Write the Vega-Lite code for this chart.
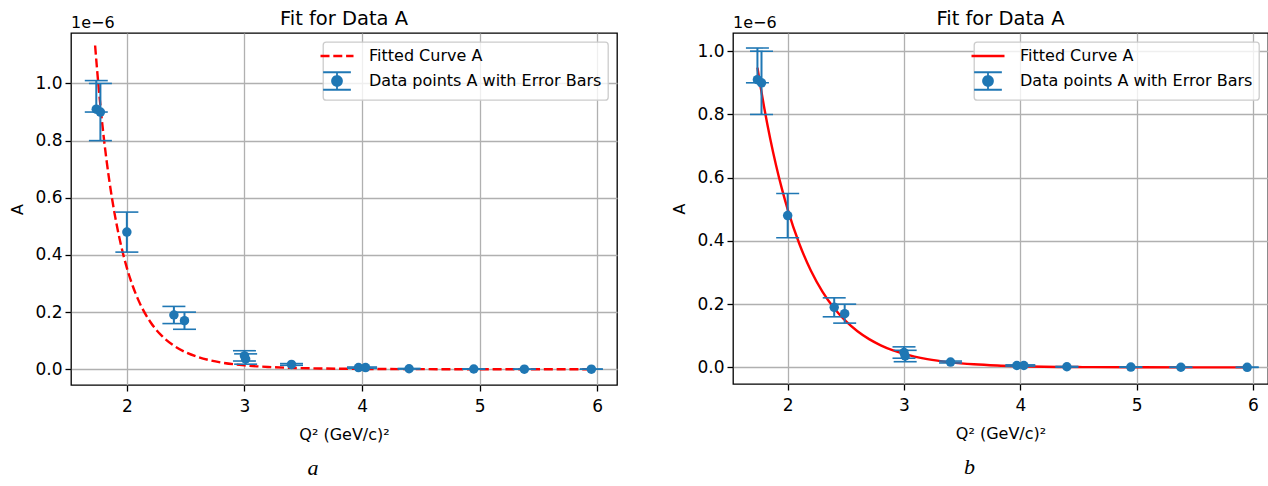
{
  "$schema": "https://vega.github.io/schema/vega-lite/v6.json",
  "background": "white",
  "padding": {"left": 8, "top": 9, "right": 0, "bottom": 0},
  "spacing": 52,
  "datasets": {
    "points": [
      {"x": 1.74, "y": 9.1e-7, "lo": 9.0e-7, "hi": 1.01e-6},
      {"x": 1.775, "y": 9.0e-7, "lo": 8.0e-7, "hi": 1.0e-6},
      {"x": 2.0, "y": 4.8e-7, "lo": 4.1e-7, "hi": 5.5e-7},
      {"x": 2.4, "y": 1.9e-7, "lo": 1.6e-7, "hi": 2.2e-7},
      {"x": 2.49, "y": 1.7e-7, "lo": 1.4e-7, "hi": 2.0e-7},
      {"x": 3.0, "y": 4.7e-8, "lo": 2.9e-8, "hi": 6.5e-8},
      {"x": 3.01, "y": 3.6e-8, "lo": 1.8e-8, "hi": 5.4e-8},
      {"x": 3.4, "y": 1.7e-8, "lo": 1.4e-8, "hi": 2.0e-8},
      {"x": 3.97, "y": 6e-9, "lo": 4e-9, "hi": 8e-9},
      {"x": 4.03, "y": 6e-9, "lo": 4e-9, "hi": 8e-9},
      {"x": 4.4, "y": 2e-9, "lo": 1e-9, "hi": 3e-9},
      {"x": 4.95, "y": 1e-9, "lo": 5e-10, "hi": 1.5e-9},
      {"x": 5.38, "y": 5e-10, "lo": 2e-10, "hi": 8e-10},
      {"x": 5.95, "y": 3e-10, "lo": 1e-10, "hi": 5e-10}
    ],
    "curveA": [
      {"x": 1.73, "y": 1.1327e-6},
      {"x": 1.75, "y": 1.0332e-6},
      {"x": 1.8, "y": 8.247e-7},
      {"x": 1.85, "y": 6.624e-7},
      {"x": 1.9, "y": 5.351e-7},
      {"x": 1.95, "y": 4.347e-7},
      {"x": 2.0, "y": 3.55e-7},
      {"x": 2.05, "y": 2.914e-7},
      {"x": 2.1, "y": 2.403e-7},
      {"x": 2.2, "y": 1.656e-7},
      {"x": 2.3, "y": 1.16e-7},
      {"x": 2.4, "y": 8.26e-8},
      {"x": 2.5, "y": 5.956e-8},
      {"x": 2.6, "y": 4.352e-8},
      {"x": 2.7, "y": 3.218e-8},
      {"x": 2.8, "y": 2.405e-8},
      {"x": 3.0, "y": 1.385e-8},
      {"x": 3.2, "y": 8.27e-9},
      {"x": 3.4, "y": 5.09e-9},
      {"x": 3.7, "y": 2.59e-9},
      {"x": 4.0, "y": 1.39e-9},
      {"x": 4.5, "y": 5.4e-10},
      {"x": 5.0, "y": 2.3e-10},
      {"x": 5.5, "y": 1.1e-10},
      {"x": 5.95, "y": 5.8e-11}
    ],
    "curveB": [
      {"x": 1.74, "y": 9.479e-7},
      {"x": 1.76, "y": 9.024e-7},
      {"x": 1.8, "y": 8.178e-7},
      {"x": 1.85, "y": 7.232e-7},
      {"x": 1.9, "y": 6.394e-7},
      {"x": 1.95, "y": 5.654e-7},
      {"x": 2.0, "y": 5.0e-7},
      {"x": 2.1, "y": 3.91e-7},
      {"x": 2.2, "y": 3.057e-7},
      {"x": 2.3, "y": 2.39e-7},
      {"x": 2.4, "y": 1.869e-7},
      {"x": 2.5, "y": 1.461e-7},
      {"x": 2.6, "y": 1.143e-7},
      {"x": 2.7, "y": 8.94e-8},
      {"x": 2.8, "y": 6.99e-8},
      {"x": 2.9, "y": 5.46e-8},
      {"x": 3.0, "y": 4.27e-8},
      {"x": 3.2, "y": 2.61e-8},
      {"x": 3.4, "y": 1.6e-8},
      {"x": 3.6, "y": 9.76e-9},
      {"x": 3.8, "y": 5.97e-9},
      {"x": 4.0, "y": 3.65e-9},
      {"x": 4.5, "y": 1.07e-9},
      {"x": 5.0, "y": 3.12e-10},
      {"x": 5.5, "y": 9.11e-11},
      {"x": 5.95, "y": 3.01e-11}
    ]
  },
  "config": {
    "font": "DejaVu Sans",
    "view": {"stroke": "black", "strokeWidth": 1.3},
    "axis": {
      "grid": true,
      "gridColor": "#b0b0b0",
      "gridWidth": 1.3,
      "domain": false,
      "tickColor": "black",
      "tickSize": 6,
      "tickWidth": 1.3,
      "labelFont": "DejaVu Sans",
      "labelFontSize": 17,
      "labelColor": "black",
      "titleFont": "DejaVu Sans",
      "titleFontSize": 16,
      "titleFontWeight": "normal",
      "titleColor": "black",
      "labelPadding": 3
    },
    "legend": {
      "orient": "top-right",
      "offset": 9,
      "padding": 6,
      "fillColor": "rgba(255,255,255,0.8)",
      "strokeColor": "#cccccc",
      "cornerRadius": 3,
      "labelFont": "DejaVu Sans",
      "labelFontSize": 16,
      "labelColor": "black",
      "labelLimit": 400,
      "symbolSize": 1089,
      "labelOffset": 24,
      "rowPadding": 4
    },
    "title": {"font": "DejaVu Sans", "fontSize": 19.5, "fontWeight": "normal", "color": "black"}
  },
  "resolve": {"scale": {"x": "independent", "y": "independent", "color": "independent"}},
  "hconcat": [
    {
      "resolve": {"scale": {"x": "independent", "y": "independent", "color": "independent"}},
      "title": {"text": "a", "orient": "bottom", "anchor": "middle", "font": "Liberation Serif", "fontStyle": "italic", "fontSize": 22, "fontWeight": "normal", "color": "black", "offset": 15},
      "vconcat": [
        {
          "resolve": {"scale": {"x": "independent", "y": "independent", "color": "independent"}},
          "title": {"text": "Fit for Data A", "anchor": "middle", "baseline": "alphabetic", "offset": 0, "dy": 31, "dx": 31},
          "vconcat": [
            {
              "width": 546,
              "height": 352,
              "title": {"text": "1e−6", "anchor": "start", "frame": "group", "baseline": "alphabetic", "offset": -10.6, "fontSize": 16},
              "encoding": {
                "x": {"field": "x", "type": "quantitative", "title": "Q² (GeV/c)²",
                      "scale": {"domain": [1.525, 6.168], "nice": false, "zero": false},
                      "axis": {"values": [2, 3, 4, 5, 6], "format": "d", "labelPadding": 7, "titlePadding": 12}},
                "y": {"field": "y", "type": "quantitative", "title": "A",
                      "scale": {"domain": [-5.49e-8, 1.1765e-6], "nice": false, "zero": false},
                      "axis": {"values": [0, 2e-7, 4e-7, 6e-7, 8e-7, 1e-6], "labelExpr": "format(datum.value*1e6, '.1f')", "minExtent": 34, "maxExtent": 34, "titlePadding": 12}}
              },
              "layer": [
                {
                  "data": {"name": "curveA"},
                  "mark": {"type": "line", "strokeWidth": 2.4, "strokeDash": [9, 3.8], "interpolate": "monotone"},
                  "encoding": {
                    "color": {"datum": "Fitted Curve A",
                      "scale": {"domain": ["Fitted Curve A", "Data points A with Error Bars"], "range": ["#ff0000", "#1f77b4"]},
                      "legend": {"title": null, "symbolSize": 1089, "symbolType": "stroke",
                        "encode": {
                          "legend": {"update": {"strokeWidth": {"value": 1.3}}},
                          "symbols": {"update": {
                            "size": {"value": 1089},
                            "shape": {"signal": "datum.value === 'Fitted Curve A' ? 'stroke' : 'M-0.84,-0.53H0.84M-0.84,0.53H0.84M0,-0.53V0.53M0.3,0A0.3,0.3,0,1,1,-0.3,0A0.3,0.3,0,1,1,0.3,0Z'"},
                            "strokeDash": {"signal": "datum.value === 'Fitted Curve A' ? [9, 3.8] : [1, 0]"},
                            "strokeWidth": {"signal": "datum.value === 'Fitted Curve A' ? 2.4 : 1.8"},
                            "fill": {"signal": "datum.value === 'Fitted Curve A' ? 'transparent' : '#1f77b4'"},
                            "stroke": {"signal": "datum.value === 'Fitted Curve A' ? '#ff0000' : '#1f77b4'"},
                            "opacity": {"value": 1},
                            "fillOpacity": {"value": 1},
                            "strokeOpacity": {"value": 1}
                          }}
                        }}
                    }
                  }
                },
                {
                  "data": {"name": "points"},
                  "mark": {"type": "rule", "color": "#1f77b4", "strokeWidth": 2},
                  "encoding": {
                    "y": {"field": "lo", "type": "quantitative", "title": "A"},
                    "y2": {"field": "hi"}
                  }
                },
                {
                  "data": {"name": "points"},
                  "mark": {"type": "tick", "orient": "horizontal", "size": 23, "thickness": 1.6, "color": "#1f77b4", "opacity": 1},
                  "encoding": {"y": {"field": "lo", "type": "quantitative", "title": "A"}}
                },
                {
                  "data": {"name": "points"},
                  "mark": {"type": "tick", "orient": "horizontal", "size": 23, "thickness": 1.6, "color": "#1f77b4", "opacity": 1},
                  "encoding": {"y": {"field": "hi", "type": "quantitative", "title": "A"}}
                },
                {
                  "data": {"name": "points"},
                  "mark": {"type": "point", "filled": true, "shape": "circle", "size": 90, "opacity": 1},
                  "encoding": {
                    "color": {"datum": "Data points A with Error Bars"}
                  }
                }
              ]
            }
          ]
        }
      ]
    },
    {
      "resolve": {"scale": {"x": "independent", "y": "independent", "color": "independent"}},
      "title": {"text": "b", "orient": "bottom", "anchor": "middle", "font": "Liberation Serif", "fontStyle": "italic", "fontSize": 22, "fontWeight": "normal", "color": "black", "offset": 15},
      "vconcat": [
        {
          "resolve": {"scale": {"x": "independent", "y": "independent", "color": "independent"}},
          "title": {"text": "Fit for Data A", "anchor": "middle", "baseline": "alphabetic", "offset": 0, "dy": 31, "dx": 31},
          "vconcat": [
            {
              "width": 535,
              "height": 351,
              "title": {"text": "1e−6", "anchor": "start", "frame": "group", "baseline": "alphabetic", "offset": -10.6, "fontSize": 16},
              "encoding": {
                "x": {"field": "x", "type": "quantitative", "title": "Q² (GeV/c)²",
                      "scale": {"domain": [1.53, 6.129], "nice": false, "zero": false},
                      "axis": {"values": [2, 3, 4, 5, 6], "format": "d", "labelPadding": 7, "titlePadding": 12}},
                "y": {"field": "y", "type": "quantitative", "title": "A",
                      "scale": {"domain": [-5.25e-8, 1.0575e-6], "nice": false, "zero": false},
                      "axis": {"values": [0, 2e-7, 4e-7, 6e-7, 8e-7, 1e-6], "labelExpr": "format(datum.value*1e6, '.1f')", "minExtent": 34, "maxExtent": 34, "titlePadding": 12}}
              },
              "layer": [
                {
                  "data": {"name": "curveB"},
                  "mark": {"type": "line", "strokeWidth": 2.4, "interpolate": "monotone"},
                  "encoding": {
                    "color": {"datum": "Fitted Curve A",
                      "scale": {"domain": ["Fitted Curve A", "Data points A with Error Bars"], "range": ["#ff0000", "#1f77b4"]},
                      "legend": {"title": null, "symbolSize": 1089, "symbolType": "stroke",
                        "encode": {
                          "legend": {"update": {"strokeWidth": {"value": 1.3}}},
                          "symbols": {"update": {
                            "size": {"value": 1089},
                            "shape": {"signal": "datum.value === 'Fitted Curve A' ? 'stroke' : 'M-0.84,-0.53H0.84M-0.84,0.53H0.84M0,-0.53V0.53M0.3,0A0.3,0.3,0,1,1,-0.3,0A0.3,0.3,0,1,1,0.3,0Z'"},
                            "strokeDash": {"value": [1, 0]},
                            "strokeWidth": {"signal": "datum.value === 'Fitted Curve A' ? 2.4 : 1.8"},
                            "fill": {"signal": "datum.value === 'Fitted Curve A' ? 'transparent' : '#1f77b4'"},
                            "stroke": {"signal": "datum.value === 'Fitted Curve A' ? '#ff0000' : '#1f77b4'"},
                            "opacity": {"value": 1},
                            "fillOpacity": {"value": 1},
                            "strokeOpacity": {"value": 1}
                          }}
                        }}
                    }
                  }
                },
                {
                  "data": {"name": "points"},
                  "mark": {"type": "rule", "color": "#1f77b4", "strokeWidth": 2},
                  "encoding": {
                    "y": {"field": "lo", "type": "quantitative", "title": "A"},
                    "y2": {"field": "hi"}
                  }
                },
                {
                  "data": {"name": "points"},
                  "mark": {"type": "tick", "orient": "horizontal", "size": 23, "thickness": 1.6, "color": "#1f77b4", "opacity": 1},
                  "encoding": {"y": {"field": "lo", "type": "quantitative", "title": "A"}}
                },
                {
                  "data": {"name": "points"},
                  "mark": {"type": "tick", "orient": "horizontal", "size": 23, "thickness": 1.6, "color": "#1f77b4", "opacity": 1},
                  "encoding": {"y": {"field": "hi", "type": "quantitative", "title": "A"}}
                },
                {
                  "data": {"name": "points"},
                  "mark": {"type": "point", "filled": true, "shape": "circle", "size": 90, "opacity": 1},
                  "encoding": {
                    "color": {"datum": "Data points A with Error Bars"}
                  }
                }
              ]
            }
          ]
        }
      ]
    }
  ]
}
